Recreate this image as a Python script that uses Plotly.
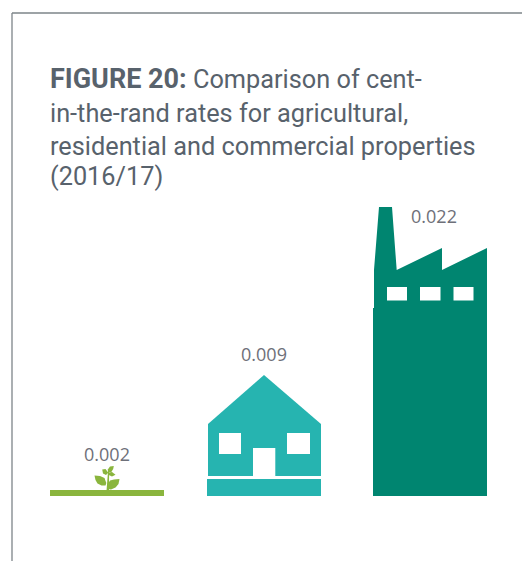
import plotly.graph_objects as go

# Cent-in-the-rand rates, 2016/17
categories = ["Agricultural", "Residential", "Commercial"]
rates = [0.002, 0.009, 0.022]

INK = "#58626c"
LABEL = "#6e7079"
GREEN = "#8ab53d"
TEAL = "#26b4b0"
DEEP = "#008570"
FRAME = "#7d8489"

# Canvas size, baseline row and vertical scale of the hidden rate axis
W, H, BASE = 522, 561, 496
PX_PER_UNIT = 289 / 0.022

# Icon outlines on a local grid (u: across the 114-wide icon, v: upward from the baseline)
STRIP = [(0, 0), (114, 0), (114, 6), (0, 6)]
STEM = [(56.5, 5), (59, 5), (59, 14), (59.2, 24), (58, 24.5), (56.8, 14)]
LEAF_L = [(44.5, 20.5), (50, 20), (54.5, 18), (56.3, 13), (55.5, 10.5), (51.5, 10.5), (47.5, 12.5), (45.5, 16)]
LEAF_R = [(57.8, 7), (57.8, 12), (60, 15.5), (64, 16.5), (69.5, 17), (68.5, 12), (65.5, 8.5), (61, 6.5)]
LEAF_UP_L = [(52.2, 26.5), (55.5, 27), (58.3, 23.3), (56, 21), (53, 22.5)]
LEAF_UP_R = [(65.5, 21.3), (62, 24), (58.8, 23.5), (58.8, 21), (62, 19.5)]
LEAF_TOP = [(63.8, 30), (60, 29.5), (57.8, 26.5), (58, 24), (61.3, 24), (63.2, 27)]

HOUSE_BASE = [(0, 0), (114, 0), (114, 17), (0, 17)]
HOUSE_BODY = [(1, 20), (114, 20), (114, 72), (57, 121), (1, 72)]
HOUSE_HOLES = [
    [(12, 42), (34, 42), (34, 63), (12, 63)],
    [(80, 42), (103, 42), (103, 63), (80, 63)],
    [(46, 20), (68.3, 20), (68.3, 48), (46, 48)],
]

FACTORY_BODY = [
    (0, 0), (114, 0), (114, 248), (69, 226), (69, 248), (23.7, 226),
    (19, 289), (6, 289), (1, 226), (1, 188), (0, 188),
]
FACTORY_HOLES = [
    [(14, 195.5), (34, 195.5), (34, 209), (14, 209)],
    [(47, 195.5), (67.5, 195.5), (67.5, 209), (47, 209)],
    [(80.5, 195.5), (100.5, 195.5), (100.5, 209), (80.5, 209)],
]

# Left edge of each icon and label placement relative to the icon top
ICON_LEFT = [50, 207, 373]
ICON_TOP = [30, 121, 289]
LABEL_X = [107, 264, 434]
LABEL_OFFSET = [10, 19, -11]

ICONS = [
    [(STRIP, GREEN), (STEM, GREEN), (LEAF_L, GREEN), (LEAF_R, GREEN),
     (LEAF_UP_L, GREEN), (LEAF_UP_R, GREEN), (LEAF_TOP, GREEN)],
    [(HOUSE_BASE, TEAL), (HOUSE_BODY, TEAL)] + [(h, "white") for h in HOUSE_HOLES],
    [(FACTORY_BODY, DEEP)] + [(h, "white") for h in FACTORY_HOLES],
]

fig = go.Figure()


def add_polygon(points, left, colour, name):
    # Local grid units convert to rate units through the shared vertical scale
    xs = [left + u for u, _ in points] + [left + points[0][0]]
    ys = [v / PX_PER_UNIT for _, v in points] + [points[0][1] / PX_PER_UNIT]
    fig.add_trace(go.Scatter(
        x=xs, y=ys, mode="lines", fill="toself", fillcolor=colour,
        line=dict(width=0, color=colour), hoverinfo="skip", name=name, showlegend=False,
    ))


for cat, left, parts in zip(categories, ICON_LEFT, ICONS):
    for pts, colour in parts:
        add_polygon(pts, left, colour, cat)

# Value labels beside each icon
fig.add_trace(go.Scatter(
    x=LABEL_X,
    y=[(t + off) / PX_PER_UNIT for t, off in zip(ICON_TOP, LABEL_OFFSET)],
    mode="text",
    text=[f"{r:.3f}" for r in rates],
    textposition="middle center",
    textfont=dict(family="Open Sans", size=18, color=LABEL),
    hoverinfo="skip",
    showlegend=False,
))

# Heading, one annotation per line
HEADING = [
    ('<span style="font-size:27px"><b>FIGURE 20:</b></span> Comparison of cent-', 79),
    ("in-the-rand rates for agricultural,", 113),
    ("residential and commercial properties", 146),
    ("(2016/17)", 177),
]
annotations = [
    dict(text=line, x=50 / W, y=1 - py / H, xref="paper", yref="paper",
         xanchor="left", yanchor="middle", showarrow=False, align="left",
         xshift=-2, font=dict(family="Roboto", size=25.3, color=INK))
    for line, py in HEADING
]

# Open frame: top and left rules only
frame = [
    dict(type="line", xref="paper", yref="paper", x0=12 / W, x1=1, y0=1 - 13 / H, y1=1 - 13 / H,
         line=dict(color=FRAME, width=1.3)),
    dict(type="line", xref="paper", yref="paper", x0=12 / W, x1=12 / W, y0=0, y1=1 - 13 / H,
         line=dict(color=FRAME, width=1.3)),
]

fig.update_layout(
    width=W, height=H, margin=dict(l=0, r=0, t=0, b=0),
    paper_bgcolor="white", plot_bgcolor="white",
    xaxis=dict(range=[0, W], visible=False, fixedrange=True),
    yaxis=dict(range=[-(H - BASE) / PX_PER_UNIT, BASE / PX_PER_UNIT], visible=False, fixedrange=True),
    annotations=annotations, shapes=frame, showlegend=False,
)

fig.write_html("out.html", config={"displayModeBar": False})
